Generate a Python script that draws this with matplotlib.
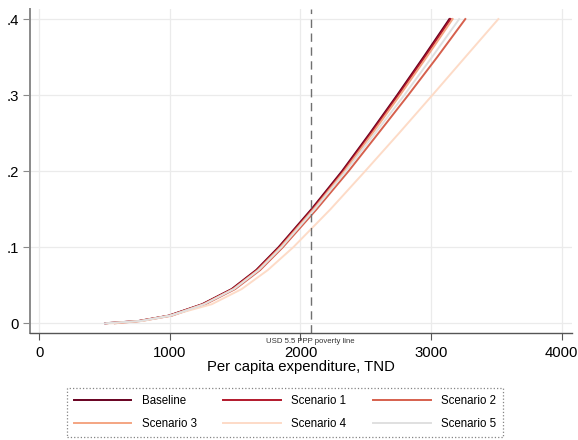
import matplotlib
matplotlib.use("Agg")
import matplotlib.pyplot as plt
import matplotlib.transforms as mtransforms

plt.rcParams['font.family'] = ['Liberation Sans', 'DejaVu Sans']

# Cumulative share of population (y) and per capita expenditure (x)
cdf_levels = [0, 0.003, 0.01, 0.025, 0.045, 0.07, 0.10, 0.15, 0.20, 0.25, 0.30, 0.35, 0.40]
baseline   = [503, 760, 990, 1246, 1473, 1661, 1832, 2084, 2318, 2532, 2740, 2942, 3140]
scenario1  = [508, 765, 995, 1251, 1479, 1667, 1839, 2092, 2326, 2541, 2749, 2952, 3150]
scenario2  = [578, 780, 1015, 1271, 1500, 1691, 1865, 2124, 2368, 2597, 2825, 3047, 3262]
scenario3  = [518, 768, 1000, 1257, 1485, 1674, 1846, 2100, 2336, 2552, 2762, 2966, 3165]
scenario4  = [550, 790, 1000, 1320, 1550, 1750, 1945, 2230, 2495, 2755, 3010, 3262, 3515]
scenario5  = [503, 772, 1005, 1263, 1491, 1681, 1855, 2109, 2348, 2572, 2795, 3007, 3215]

series_names = ["Baseline", "Scenario 1", "Scenario 2", "Scenario 3", "Scenario 4", "Scenario 5"]
series_values = [baseline, scenario1, scenario2, scenario3, scenario4, scenario5]
colors = ["#67001f", "#b2182b", "#d6604d", "#f4a582", "#fddbc7", "#e0e0e0"]

poverty_line = 2077
x_ticks = [0, 1000, 2000, 3000, 4000]
y_ticks = [0, 0.1, 0.2, 0.3, 0.4]
y_tick_labels = ["0", ".1", ".2", ".3", ".4"]

fig = plt.figure(figsize=(5.78, 4.4), dpi=100)
ax = fig.add_axes([0.0514, 0.2425, 0.9382, 0.737])

handles = []
for name, vals, c in zip(series_names, series_values, colors):
    h, = ax.plot(vals, cdf_levels, color=c, lw=1.4, label=name,
                 solid_joinstyle='round')
    handles.append(h)

ax.axvline(poverty_line, color="#707070", lw=1.0, dashes=(6, 4))

ax.set_xlim(-73.5, 4079)
ax.set_ylim(-0.0132, 0.4132)
ax.set_xticks(x_ticks)
ax.set_xticklabels([str(v) for v in x_ticks])
ax.set_yticks(y_ticks)
ax.set_yticklabels(y_tick_labels)

ax.grid(True, color="#ebebeb", lw=0.9)
ax.set_axisbelow(True)
for s in ["top", "right"]:
    ax.spines[s].set_visible(False)
ax.spines["left"].set_color("#8a8a8a")
ax.spines["left"].set_linewidth(1.4)
ax.spines["bottom"].set_color("#555555")
ax.spines["bottom"].set_linewidth(1.0)
ax.tick_params(axis='y', length=5, color="#8a8a8a", labelsize=10.7, pad=3)
ax.tick_params(axis='x', length=5, color="#555555", labelsize=10.7, pad=4)

ax.set_xlabel("Per capita expenditure, TND", fontsize=10.7, labelpad=0)

trans = mtransforms.blended_transform_factory(ax.transData, ax.transAxes)
ax.text(poverty_line, -0.013, "USD 5.5 PPP poverty line", transform=trans,
        ha='center', va='top', fontsize=5.6, color="#333333")

# row-major order for a 3-column legend (matplotlib fills column-wise)
order = [0, 3, 1, 4, 2, 5]
leg = fig.legend([handles[i] for i in order], [series_names[i] for i in order],
                 loc='center', bbox_to_anchor=(285 / 578, 1 - 412.5 / 440),
                 ncol=3, fontsize=8.3, handlelength=5.0, handletextpad=0.9,
                 columnspacing=2.3, labelspacing=0.9, borderpad=0.6,
                 frameon=True, fancybox=False)
frame = leg.get_frame()
frame.set_linestyle(':')
frame.set_edgecolor('#666666')
frame.set_linewidth(0.9)
for line in leg.get_lines():
    line.set_linewidth(1.4)

fig.savefig("out.png", dpi=100)
